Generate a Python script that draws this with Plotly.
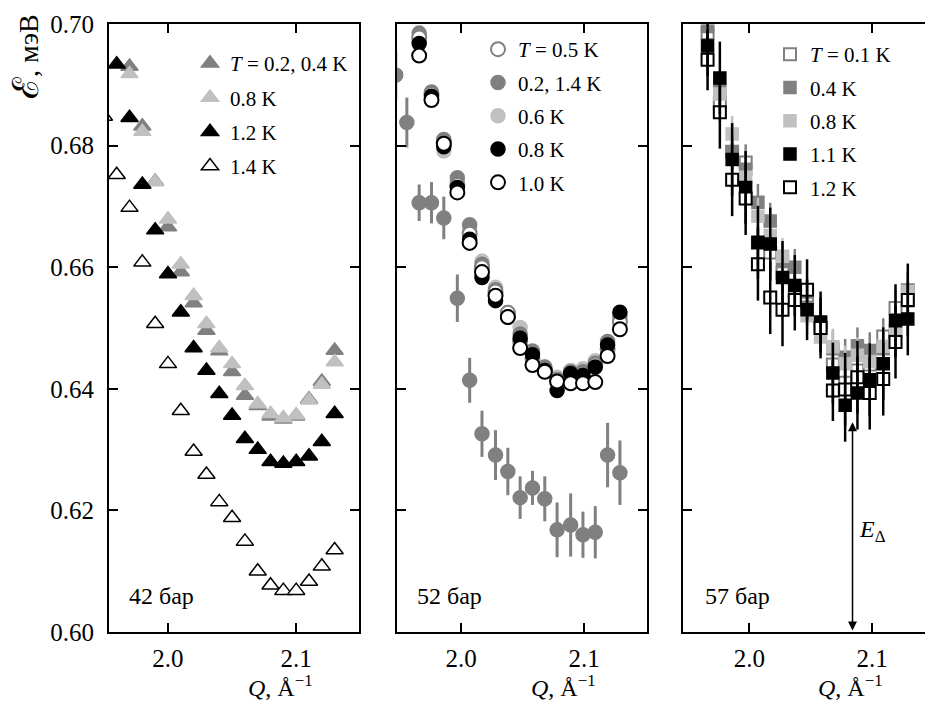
import plotly.graph_objects as go

# ---------------- data ----------------
# 42 bar
q42_gray = [1.97, 1.98, 1.99, 2.00, 2.01, 2.02, 2.03, 2.04, 2.05, 2.06, 2.07, 2.08, 2.09, 2.10, 2.11, 2.12, 2.13]
e42_t02 = [0.6930, 0.6832, 0.6741, 0.6666, 0.6592, 0.6541, 0.6496, 0.6462, 0.6428, 0.6389, 0.6372, 0.6355, 0.6350, 0.6355, 0.6383, 0.6412, 0.6463]
e42_t08 = [0.6918, 0.6823, 0.6740, 0.6679, 0.6605, 0.6553, 0.6507, 0.6467, 0.6441, 0.6405, 0.6375, 0.6359, 0.6352, 0.6357, 0.6381, 0.6407, 0.6444]
q42_t12 = [1.96, 1.97, 1.98, 1.99, 2.00, 2.01, 2.02, 2.03, 2.04, 2.05, 2.06, 2.07, 2.08, 2.09, 2.10, 2.11, 2.12, 2.13]
e42_t12 = [0.6934, 0.6846, 0.6736, 0.6661, 0.6589, 0.6526, 0.6467, 0.6430, 0.6392, 0.6356, 0.6318, 0.6300, 0.6280, 0.6277, 0.6280, 0.6289, 0.6313, 0.6359]
q42_t14 = [1.95, 1.96, 1.97, 1.98, 1.99, 2.00, 2.01, 2.02, 2.03, 2.04, 2.05, 2.06, 2.07, 2.08, 2.09, 2.10, 2.11, 2.12, 2.13]
e42_t14 = [0.6848, 0.6752, 0.6698, 0.6608, 0.6507, 0.6441, 0.6364, 0.6297, 0.6259, 0.6214, 0.6188, 0.6149, 0.6100, 0.6077, 0.6068, 0.6068, 0.6083, 0.6108, 0.6135]
err42 = 0.0015

# 52 bar
q52 = [1.966, 1.976, 1.986, 1.997, 2.007, 2.017, 2.028, 2.038, 2.048, 2.058, 2.068, 2.078, 2.089, 2.099, 2.109, 2.119, 2.129]
e52_t05 = [0.6978, 0.6885, 0.6805, 0.6735, 0.6655, 0.6600, 0.6560, 0.6525, 0.6478, 0.6450, 0.6432, 0.6415, 0.6420, 0.6418, 0.6440, 0.6465, 0.6510]
e52_t02 = [0.6985, 0.6888, 0.6810, 0.6747, 0.6670, 0.6605, 0.6563, 0.6525, 0.6490, 0.6462, 0.6436, 0.6415, 0.6428, 0.6428, 0.6442, 0.6478, 0.6520]
e52_t06 = [0.6980, 0.6883, 0.6791, 0.6740, 0.6662, 0.6610, 0.6567, 0.6523, 0.6501, 0.6458, 0.6436, 0.6419, 0.6430, 0.6433, 0.6446, 0.6475, 0.6515]
e52_t08 = [0.6968, 0.6881, 0.6798, 0.6731, 0.6646, 0.6583, 0.6545, 0.6518, 0.6483, 0.6456, 0.6430, 0.6397, 0.6425, 0.6422, 0.6436, 0.6472, 0.6526]
e52_t10 = [0.6948, 0.6875, 0.6803, 0.6723, 0.6640, 0.6592, 0.6553, 0.6518, 0.6467, 0.6439, 0.6428, 0.6412, 0.6409, 0.6409, 0.6411, 0.6454, 0.6498]
q52_t14 = [1.947, 1.956, 1.966, 1.976, 1.986, 1.997, 2.007, 2.017, 2.028, 2.038, 2.048, 2.058, 2.068, 2.078, 2.089, 2.099, 2.109, 2.119, 2.129]
e52_t14 = [0.6916, 0.6838, 0.6706, 0.6706, 0.6681, 0.6549, 0.6414, 0.6326, 0.6291, 0.6264, 0.6221, 0.6237, 0.6219, 0.6168, 0.6176, 0.6160, 0.6164, 0.6291, 0.6262]
err52_t14 = [0.0040, 0.0041, 0.0030, 0.0034, 0.0035, 0.0039, 0.0037, 0.0038, 0.0041, 0.0039, 0.0035, 0.0028, 0.0037, 0.0045, 0.0052, 0.0038, 0.0043, 0.0053, 0.0053]
err52 = 0.001

# 57 bar
q57 = [1.966, 1.976, 1.986, 1.997, 2.007, 2.017, 2.027, 2.037, 2.047, 2.058, 2.068, 2.078, 2.088, 2.098, 2.109, 2.119, 2.129]
e57_t01 = [0.6985, 0.6870, 0.6790, 0.6772, 0.6640, 0.6624, 0.6590, 0.6560, 0.6540, 0.6500, 0.6440, 0.6410, 0.6430, 0.6440, 0.6486, 0.6533, 0.6562]
e57_t04 = [0.6996, 0.6892, 0.6790, 0.6761, 0.6707, 0.6676, 0.6610, 0.6600, 0.6534, 0.6507, 0.6466, 0.6452, 0.6471, 0.6463, 0.6466, 0.6496, 0.6545]
e57_t08 = [0.7010, 0.6885, 0.6819, 0.6748, 0.6684, 0.6652, 0.6618, 0.6570, 0.6520, 0.6485, 0.6469, 0.6441, 0.6455, 0.6445, 0.6470, 0.6500, 0.6560]
e57_t11 = [0.6964, 0.6911, 0.6777, 0.6731, 0.6641, 0.6638, 0.6583, 0.6570, 0.6530, 0.6510, 0.6426, 0.6373, 0.6393, 0.6415, 0.6441, 0.6512, 0.6515]
e57_t12 = [0.6941, 0.6855, 0.6744, 0.6713, 0.6605, 0.6550, 0.6530, 0.6546, 0.6563, 0.6500, 0.6397, 0.6399, 0.6419, 0.6393, 0.6416, 0.6477, 0.6546]
err57_gray = [0.003, 0.003, 0.003, 0.003, 0.003, 0.003, 0.003, 0.003, 0.003, 0.003, 0.003, 0.003, 0.003, 0.003, 0.003, 0.003, 0.003]
err57_t11 = [0.005, 0.006, 0.006, 0.006, 0.006, 0.006, 0.006, 0.005, 0.005, 0.005, 0.005, 0.006, 0.006, 0.006, 0.006, 0.006, 0.006]
err57_t12 = [0.005, 0.006, 0.006, 0.006, 0.006, 0.006, 0.006, 0.005, 0.005, 0.005, 0.005, 0.006, 0.006, 0.006, 0.006, 0.006, 0.006]

gap_q = 2.084
gap_e = 0.6345

# ---------------- style ----------------
SERIF = "Liberation Serif"
DARK = "#808080"
LIGHT = "#c0c0c0"
BLACK = "#000000"
WHITE = "#ffffff"

fig = go.Figure()


def markers(x, y, xa, ya, symbol, fill, line, size, name, legend, rank, show=True, lw=1.5):
    fig.add_trace(go.Scatter(
        x=x, y=y, xaxis=xa, yaxis=ya, mode="markers", name=name,
        marker=dict(symbol=symbol, size=size, color=fill, line=dict(color=line, width=lw)),
        showlegend=show, legend=legend, legendrank=rank, legendgroup=legend + str(rank),
        cliponaxis=True,
    ))


def errs(x, y, err, xa, ya, color, thick):
    fig.add_trace(go.Scatter(
        x=x, y=y, xaxis=xa, yaxis=ya, mode="markers",
        marker=dict(size=1, color="rgba(0,0,0,0)"),
        error_y=dict(type="data", array=err if isinstance(err, list) else None,
                     value=err if not isinstance(err, list) else None,
                     color=color, thickness=thick, width=0, visible=True),
        showlegend=False, hoverinfo="skip",
    ))


# panel 1 (42 bar)
markers(q42_gray, e42_t02, "x", "y", "triangle-up", DARK, DARK, 15, "<i>T</i> = 0.2, 0.4 K", "legend", 1)
markers(q42_gray, e42_t08, "x", "y", "triangle-up", LIGHT, LIGHT, 15, "0.8 K", "legend", 2)
markers(q42_t12, e42_t12, "x", "y", "triangle-up", BLACK, BLACK, 15, "1.2 K", "legend", 3)
markers(q42_t14, e42_t14, "x", "y", "triangle-up", WHITE, BLACK, 15, "1.4 K", "legend", 4)
errs(q42_gray, e42_t02, err42, "x", "y", DARK, 2)
errs(q42_gray, e42_t08, err42, "x", "y", LIGHT, 2)
errs(q42_t12, e42_t12, err42, "x", "y", BLACK, 2)
errs(q42_t14, e42_t14, err42, "x", "y", BLACK, 2)

# panel 2 (52 bar)
errs(q52_t14, e52_t14, err52_t14, "x2", "y2", DARK, 3)
markers(q52_t14, e52_t14, "x2", "y2", "circle", DARK, DARK, 14, "0.2, 1.4 K (1.4)", "legend2", 2, show=False)
markers(q52, e52_t06, "x2", "y2", "circle", LIGHT, LIGHT, 14, "0.6 K", "legend2", 3)
markers(q52, e52_t02, "x2", "y2", "circle", DARK, DARK, 14, "0.2, 1.4 K", "legend2", 2)
markers(q52, e52_t05, "x2", "y2", "circle", WHITE, DARK, 14, "<i>T</i> = 0.5 K", "legend2", 1, lw=2)
errs(q52, e52_t08, err52, "x2", "y2", BLACK, 2)
markers(q52, e52_t08, "x2", "y2", "circle", BLACK, BLACK, 14, "0.8 K", "legend2", 4)
markers(q52, e52_t10, "x2", "y2", "circle", WHITE, BLACK, 14, "1.0 K", "legend2", 5, lw=2)

# panel 3 (57 bar)
markers(q57, e57_t01, "x3", "y3", "square", WHITE, DARK, 12, "<i>T</i> = 0.1 K", "legend3", 1, lw=2)
markers(q57, e57_t04, "x3", "y3", "square", DARK, DARK, 12, "0.4 K", "legend3", 2)
markers(q57, e57_t08, "x3", "y3", "square", LIGHT, LIGHT, 12, "0.8 K", "legend3", 3)
errs(q57, e57_t01, err57_gray, "x3", "y3", DARK, 2.5)
errs(q57, e57_t04, err57_gray, "x3", "y3", DARK, 2.5)
errs(q57, e57_t08, err57_gray, "x3", "y3", LIGHT, 2.5)
markers(q57, e57_t11, "x3", "y3", "square", BLACK, BLACK, 12, "1.1 K", "legend3", 4)
markers(q57, e57_t12, "x3", "y3", "square", WHITE, BLACK, 12, "1.2 K", "legend3", 5, lw=2)
errs(q57, e57_t11, err57_t11, "x3", "y3", BLACK, 2.5)
errs(q57, e57_t12, err57_t12, "x3", "y3", BLACK, 2.5)

W, H = 925, 704
ydom = [1 - 632 / H, 1 - 24 / H]

axis_common = dict(
    showline=True, linecolor="black", linewidth=2, ticks="inside", ticklen=9, tickwidth=2,
    tickcolor="black", showgrid=False, zeroline=False,
    tickfont=dict(family=SERIF, size=25, color="black"),
)

xa = dict(axis_common, tickmode="array", tickvals=[2.0, 2.1], ticktext=["2.0", "2.1"], mirror="ticks", ticklabelstandoff=3)
ya = dict(axis_common, range=[0.60, 0.70], tickmode="array",
          tickvals=[0.60, 0.62, 0.64, 0.66, 0.68, 0.70],
          ticktext=["0.60", "0.62", "0.64", "0.66", "0.68", "0.70"], domain=ydom)

leg_common = dict(xanchor="left", yanchor="top", bgcolor="rgba(0,0,0,0)",
                  font=dict(family=SERIF, size=21), traceorder="grouped")

fig.update_layout(
    width=W, height=H, margin=dict(l=0, r=0, t=0, b=0, autoexpand=False),
    paper_bgcolor="white", plot_bgcolor="white",
    font=dict(family=SERIF, size=22, color="black"),
    xaxis=dict(xa, domain=[109 / W, 359 / W], range=[1.954, 2.149], anchor="y"),
    yaxis=dict(ya, anchor="x", mirror="ticks", ticklabelstandoff=8),
    xaxis2=dict(xa, domain=[397 / W, 647 / W], range=[1.948, 2.151], anchor="y2"),
    yaxis2=dict(ya, anchor="x2", mirror="ticks", showticklabels=False),
    xaxis3=dict(xa, domain=[683 / W, 1.0], range=[1.946, 2.143], anchor="y3"),
    yaxis3=dict(ya, anchor="x3", mirror=False, showticklabels=False),
    legend=dict(leg_common, x=190 / W, y=1 - 43 / H, tracegroupgap=4),
    legend2=dict(leg_common, x=478 / W, y=1 - 29 / H, tracegroupgap=3),
    legend3=dict(leg_common, x=770 / W, y=1 - 34 / H, tracegroupgap=3),
)

ann = []
for xr, yr, qx, txt in [("x", "y", 1.968, "42 бар"), ("x2", "y2", 1.9626, "52 бар"), ("x3", "y3", 1.9626, "57 бар")]:
    ann.append(dict(x=qx, y=0.606, xref=xr, yref=yr, text=txt, showarrow=False, xanchor="left", yanchor="middle",
                    font=dict(family=SERIF, size=24)))
for px in [280, 563, 850]:
    ann.append(dict(x=px / W, y=1 - 686 / H, xref="paper", yref="paper", text="<i>Q</i>, Å<sup>−1</sup>",
                    showarrow=False, xanchor="center", yanchor="middle", font=dict(family=SERIF, size=24)))
ann.append(dict(x=26 / W, y=1 - 57 / H, xref="paper", yref="paper",
                text="<span style='font-size:36px'>ℰ</span>, мэВ", textangle=-90,
                showarrow=False, xanchor="center", yanchor="middle", font=dict(family=SERIF, size=28)))
# gap arrow
ann.append(dict(x=gap_q, y=gap_e, xref="x3", yref="y3", ax=gap_q, ay=0.600, axref="x3", ayref="y3",
                text="", showarrow=True, arrowhead=2, startarrowhead=2, arrowside="end+start",
                arrowwidth=1.5, arrowsize=1.2, arrowcolor="black"))
ann.append(dict(x=2.088, y=0.6166, xref="x3", yref="y3", text="<i>E</i><sub>Δ</sub>", showarrow=False,
                xanchor="left", yanchor="middle", font=dict(family=SERIF, size=24)))
fig.update_layout(annotations=ann)

fig.write_html("out.html", config={"displayModeBar": False},
               post_script="document.body.style.margin='0px'; document.body.style.overflow='hidden';")
